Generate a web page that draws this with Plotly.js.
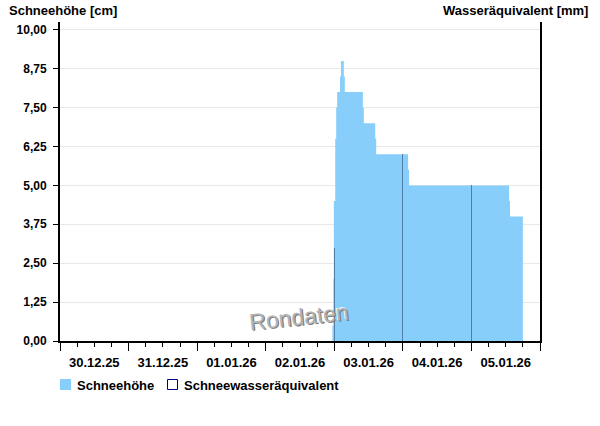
<!DOCTYPE html>
<html>
<head>
<meta charset="utf-8">
<script src="https://cdn.plot.ly/plotly-3.0.1.min.js"></script>
<style>html,body{margin:0;padding:0;background:#fff;}#chart{width:600px;height:426px;}</style>
</head>
<body>
<div id="chart"></div>
<script>
// Schneehöhe (cm), step values starting at the given time
var snowTime = ['2026-01-02 23:20','2026-01-02 23:40','2026-01-02 23:50','2026-01-03 00:20','2026-01-03 00:40','2026-01-03 01:00','2026-01-03 02:00','2026-01-03 02:20','2026-01-03 03:20','2026-01-03 03:40','2026-01-03 10:00','2026-01-03 10:20','2026-01-03 14:20','2026-01-03 14:40','2026-01-04 01:50','2026-01-04 02:10','2026-01-05 13:10','2026-01-05 13:30','2026-01-05 18:00'];
var snowCm = [0.5, 2.0, 4.5, 6.5, 7.5, 8.0, 8.5, 9.0, 8.5, 8.0, 7.5, 7.0, 6.5, 6.0, 5.5, 5.0, 4.5, 4.0, 4.0];
// Schneewasseräquivalent (mm)
var sweTime = ['2026-01-03 00:00','2026-01-04 00:00','2026-01-05 00:00'];
var sweMm = [3.0, 6.0, 5.0];
var yTicks = [0, 1.25, 2.5, 3.75, 5, 6.25, 7.5, 8.75, 10];
var legendNames = ['Schneehöhe', 'Schneewasseräquivalent'];

var FONT = 'Liberation Sans, Arial, sans-serif';
var W = 480, H = 319;
function px(x){ return x / W; }
function py(y){ return y / H; }

var traces = [
  {
    type: 'scatter', mode: 'lines', x: snowTime, y: snowCm,
    line: {shape: 'hv', width: 0, color: '#87CEFA'},
    fill: 'tozeroy', fillcolor: '#87CEFA',
    name: legendNames[0], showlegend: false, hoverinfo: 'skip'
  },
  {
    type: 'bar', x: sweTime, y: sweMm, yaxis: 'y2',
    width: 1260000,
    marker: {color: '#4f7fa8', line: {width: 0}},
    name: legendNames[1], showlegend: false, hoverinfo: 'skip'
  }
];

var layout = {
  width: 600, height: 426,
  margin: {l: 60, r: 60, t: 22, b: 85, pad: 0},
  paper_bgcolor: '#ffffff', plot_bgcolor: '#ffffff',
  separators: ',.',
  font: {family: FONT, size: 12, color: '#000'},
  showlegend: false,
  xaxis: {
    type: 'date',
    range: ['2025-12-30 00:00', '2026-01-06 00:00'],
    tickmode: 'linear', tick0: '2025-12-30 00:00', dtick: 86400000,
    ticklabelmode: 'period', tickformat: '%d.%m.%y',
    ticks: 'outside', ticklen: 8, tickwidth: 1, tickcolor: '#000',
    minor: {dtick: 21600000, tick0: '2025-12-30 00:00', ticks: 'outside', ticklen: 4, tickwidth: 1, tickcolor: '#000', showgrid: false},
    showline: true, linecolor: '#000', linewidth: 2,
    showgrid: false, zeroline: false,
    tickfont: {family: FONT, size: 13, weight: 'bold', color: '#000'},
    fixedrange: true
  },
  yaxis: {
    range: [0, 10.25],
    tickmode: 'array', tickvals: yTicks, tickformat: '.2f',
    ticks: 'outside', ticklen: 5, tickwidth: 1, tickcolor: '#000',
    ticklabelstandoff: 4,
    showline: true, linecolor: '#000', linewidth: 2,
    showgrid: true, gridcolor: '#e8e8e8', gridwidth: 1, zeroline: false,
    tickfont: {family: FONT, size: 12, weight: 'bold', color: '#000'},
    fixedrange: true
  },
  yaxis2: {
    range: [0, 10.25], overlaying: 'y', side: 'right',
    showline: true, linecolor: '#000', linewidth: 2,
    showticklabels: false, ticks: '', showgrid: false, zeroline: false,
    fixedrange: true
  },
  bargap: 0,
  shapes: [
    {type: 'rect', xref: 'paper', yref: 'paper', x0: px(0), x1: px(11), y0: py(-49), y1: py(-38), fillcolor: '#87CEFA', line: {width: 0}},
    {type: 'rect', xref: 'paper', yref: 'paper', x0: px(107.5), x1: px(117.5), y0: py(-48.5), y1: py(-38.5), fillcolor: '#ffffff', line: {width: 1, color: '#000080'}}
  ],
  annotations: [
    {xref: 'paper', yref: 'paper', x: px(-53), y: py(330), xanchor: 'left', yanchor: 'middle', showarrow: false,
     text: 'Schneehöhe [cm]', font: {family: FONT, size: 13, weight: 'bold', color: '#000'}},
    {xref: 'paper', yref: 'paper', x: px(530), y: py(330), xanchor: 'right', yanchor: 'middle', showarrow: false,
     text: 'Wasseräquivalent [mm]', font: {family: FONT, size: 13, weight: 'bold', color: '#000'}},
    {xref: 'paper', yref: 'paper', x: px(15), y: py(-44), xanchor: 'left', yanchor: 'middle', showarrow: false,
     text: legendNames[0], font: {family: FONT, size: 13, weight: 'bold', color: '#000'}},
    {xref: 'paper', yref: 'paper', x: px(122), y: py(-44), xanchor: 'left', yanchor: 'middle', showarrow: false,
     text: legendNames[1], font: {family: FONT, size: 13, weight: 'bold', color: '#000'}},
    {xref: 'paper', yref: 'paper', x: px(239), y: py(24), xanchor: 'center', yanchor: 'middle', showarrow: false,
     text: 'Rondaten', textangle: -6,
     font: {family: FONT, size: 23, color: '#b4b4b4', shadow: '1px 1px 0px #7a7a7a, -1px -1px 0px #ffffff'}}
  ]
};

Plotly.newPlot('chart', traces, layout, {displayModeBar: false, staticPlot: true});
</script>
</body>
</html>
